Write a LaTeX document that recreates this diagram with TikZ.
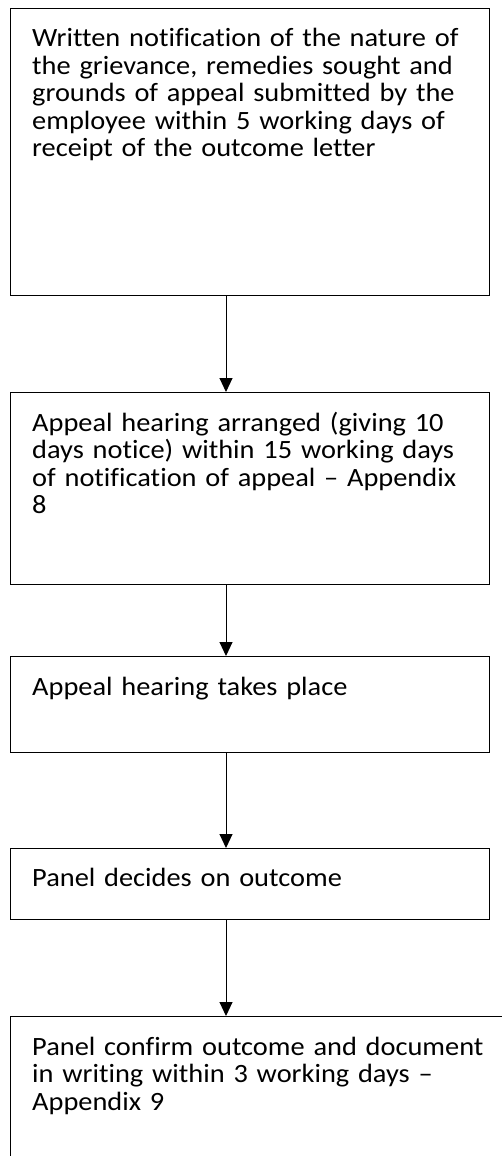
\documentclass[tikz,border=0pt]{standalone}
\usepackage{fontspec}
\setmainfont{Carlito}[Ligatures=NoCommon, FakeStretch=1.075]
\usetikzlibrary{arrows.meta}
\begin{document}
\begin{tikzpicture}[x=1pt,y=-1pt,
  box/.style={draw=black, line width=1.3pt, anchor=north west, inner sep=0pt, minimum width=479pt},
  txt/.style={anchor=base west, align=left, text width=470pt, inner sep=0pt,
              font=\fontsize{26.4}{27.6}\selectfont},
  arr/.style={line width=1pt, -{Triangle[width=13pt,length=14pt]}}]
\useasboundingbox (0,0) rectangle (502,1156);
\clip (0,0) rectangle (502,1156);
\fill[white] (0,0) rectangle (502,1156);
\node[box, minimum height=287pt] (b1) at (10,8) {};
\node[box, minimum height=192pt] (b2) at (10,392) {};
\node[box, minimum height=96pt] (b3) at (10,656) {};
\node[box, minimum height=71pt] (b4) at (10,848) {};
\node[box, minimum width=520pt, minimum height=200pt] (b5) at (10,1016) {};
\node[txt] (t1) at (32,46.5) {Written notification of the nature of\\the grievance, remedies sought and\\grounds of appeal submitted by the\\employee within 5 working days of\\receipt of the outcome letter};
\node[txt] (t2) at (32,431) {Appeal hearing arranged (giving 10\\days notice) within 15 working days\\of notification of appeal -- Appendix\\8};
\node[txt] (t3) at (32,695) {Appeal hearing takes place};
\node[txt] (t4) at (32,886) {Panel decides on outcome};
\node[txt] (t5) at (32,1055) {Panel confirm outcome and document\\in writing within 3 working days --\\Appendix 9};
\draw[arr] ([xshift=216pt]b1.south west) -- ([xshift=216pt]b2.north west);
\draw[arr] ([xshift=216pt]b2.south west) -- ([xshift=216pt]b3.north west);
\draw[arr] ([xshift=216pt]b3.south west) -- ([xshift=216pt]b4.north west);
\draw[arr] ([xshift=216pt]b4.south west) -- ([xshift=216pt]b5.north west);
\end{tikzpicture}
\end{document}
